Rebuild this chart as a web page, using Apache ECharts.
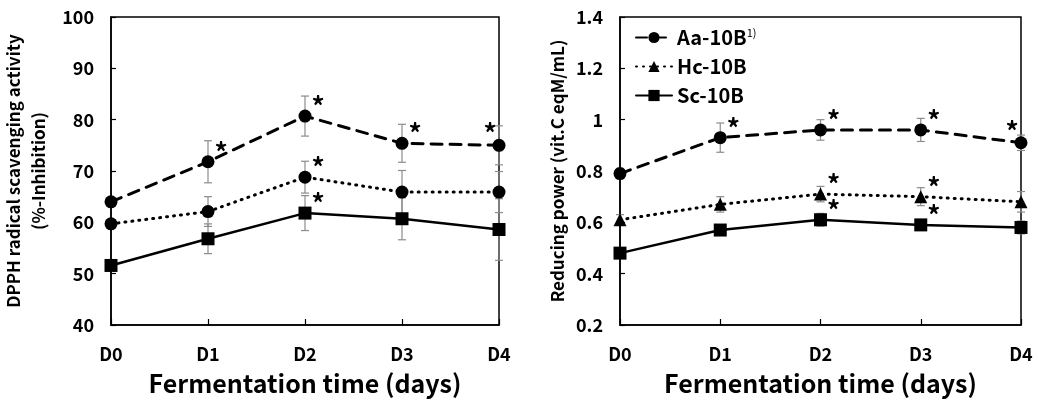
<!DOCTYPE html>
<html>
<head>
<meta charset="utf-8">
<script src="https://cdn.jsdelivr.net/npm/echarts@6/dist/echarts.min.js"></script>
<style>
  html, body { margin: 0; padding: 0; background: #fff; }
  #chart { width: 1039px; height: 410px; }
</style>
</head>
<body>
<div id="chart"></div>
<script>
// days of fermentation
var days = ['D0', 'D1', 'D2', 'D3', 'D4'];

// DPPH radical scavenging activity (%)
var dpphAa = [64.0, 71.8, 80.7, 75.4, 75.0];
var dpphAaErr = [0.8, 4.1, 3.9, 3.7, 3.8];
var dpphHc = [59.7, 62.1, 68.8, 65.9, 65.9];
var dpphHcErr = [0.8, 2.9, 3.1, 4.2, 4.0];
var dpphSc = [51.6, 56.8, 61.8, 60.7, 58.6];
var dpphScErr = [1.0, 2.9, 3.4, 4.1, 6.0];

// reducing power (vit.C eqM/mL)
var redAa = [0.79, 0.93, 0.96, 0.96, 0.91];
var redAaErr = [0.02, 0.057, 0.04, 0.045, 0.03];
var redHc = [0.61, 0.67, 0.71, 0.70, 0.68];
var redHcErr = [0.02, 0.03, 0.03, 0.035, 0.04];
var redSc = [0.48, 0.57, 0.61, 0.59, 0.58];
var redScErr = [0.01, 0.02, 0.025, 0.015, 0.025];

// 1 = significant (*)
var dpphAaSig = [0, 1, 1, 1, 1];
var dpphHcSig = [0, 0, 1, 0, 0];
var dpphScSig = [0, 0, 1, 0, 0];
var redAaSig = [0, 1, 1, 1, 1];
var redHcSig = [0, 0, 1, 1, 0];
var redScSig = [0, 0, 1, 1, 0];

var FONT = 'Noto Sans CJK KR';

function withStars(values, sig) {
    return values.map(function (v, i) {
        if (!sig[i]) return v;
        return {
            value: v,
            label: {
                show: true,
                formatter: '*',
                position: 'inside',
                offset: i === values.length - 1 ? [-9, -12] : [13, -10],
                fontSize: 26,
                fontWeight: 'bold',
                fontFamily: FONT,
                color: '#000'
            }
        };
    });
}

function errData(values, err) {
    return values.map(function (v, i) {
        return [i, v - err[i], v + err[i]];
    });
}

function errSeries(idx, values, err) {
    return {
        type: 'custom',
        xAxisIndex: idx,
        yAxisIndex: idx,
        z: 1,
        silent: true,
        data: errData(values, err),
        renderItem: function (params, api) {
            var lo = api.coord([api.value(0), api.value(1)]);
            var hi = api.coord([api.value(0), api.value(2)]);
            var w = 4;
            var st = { stroke: '#8c8c8c', lineWidth: 1.2 };
            return {
                type: 'group',
                children: [
                    { type: 'line', shape: { x1: lo[0], y1: lo[1], x2: hi[0], y2: hi[1] }, style: st },
                    { type: 'line', shape: { x1: lo[0] - w, y1: lo[1], x2: lo[0] + w, y2: lo[1] }, style: st },
                    { type: 'line', shape: { x1: hi[0] - w, y1: hi[1], x2: hi[0] + w, y2: hi[1] }, style: st }
                ]
            };
        }
    };
}

function lineSeries(name, idx, data, symbol, lineType, width) {
    return {
        name: name,
        type: 'line',
        xAxisIndex: idx,
        yAxisIndex: idx,
        z: 3,
        data: data,
        symbol: symbol,
        symbolSize: 13,
        itemStyle: { color: '#000' },
        lineStyle: { color: '#000', width: width, type: lineType, cap: 'round' },
        emphasis: { disabled: true }
    };
}

function xAxisCfg(idx) {
    return {
        type: 'category',
        gridIndex: idx,
        data: days,
        boundaryGap: false,
        axisLine: { lineStyle: { color: '#000', width: 1.5 } },
        axisTick: { inside: true, length: 6, lineStyle: { color: '#000', width: 1.2 } },
        axisLabel: { margin: 20, fontSize: 18, fontWeight: 'bold', fontFamily: FONT, color: '#000' },
        name: 'Fermentation time (days)',
        nameLocation: 'middle',
        nameGap: 46,
        nameTextStyle: { fontSize: 25, fontWeight: 'bold', fontFamily: FONT, color: '#000' },
        splitLine: { show: false }
    };
}

function yAxisCfg(idx, min, max, interval, name, nameGap, lh) {
    return {
        type: 'value',
        gridIndex: idx,
        min: min,
        max: max,
        interval: interval,
        axisLine: { show: true, lineStyle: { color: '#000', width: 1.5 } },
        axisTick: { show: true, inside: true, length: 5, lineStyle: { color: '#000', width: 1.2 } },
        axisLabel: { margin: 17, fontSize: 18, fontWeight: 'bold', fontFamily: FONT, color: '#000' },
        splitLine: { show: false },
        name: name,
        nameLocation: 'middle',
        nameRotate: 90,
        nameGap: nameGap,
        nameTextStyle: { fontSize: 17, fontWeight: 'bold', fontFamily: FONT, color: '#000', lineHeight: lh }
    };
}

var chart = echarts.init(document.getElementById('chart'));

var option = {
    animation: false,
    backgroundColor: '#fff',
    grid: [
        { left: 100, right: 540, top: 17, bottom: 85, show: true, borderColor: '#000', borderWidth: 1.5 },
        { left: 620, right: 18, top: 17, bottom: 85, show: true, borderColor: '#000', borderWidth: 1.5 }
    ],
    legend: {
        orient: 'vertical',
        left: 630,
        top: 22,
        itemWidth: 36,
        itemHeight: 14,
        itemGap: 9,
        data: ['Aa-10B', 'Hc-10B', 'Sc-10B'],
        formatter: function (name) {
            return name === 'Aa-10B' ? name + '{sup|1)}' : name;
        },
        textStyle: {
            fontSize: 20, fontWeight: 'bold', fontFamily: FONT, color: '#000',
            rich: { sup: { fontSize: 11, fontWeight: 'normal', fontFamily: FONT, color: '#000', padding: [0, 0, 10, 0] } }
        }
    },
    xAxis: [xAxisCfg(0), xAxisCfg(1)],
    yAxis: [
        yAxisCfg(0, 40, 100, 10, 'DPPH radical scavenging activity\n(%-Inhibition)', 60, 25),
        yAxisCfg(1, 0.2, 1.4, 0.2, 'Reducing power (vit.C eqM/mL)', 52, 20)
    ],
    series: [
        // right chart first so the legend uses its symbols
        lineSeries('Aa-10B', 1, withStars(redAa, redAaSig), 'circle', [11, 8], 3),
        lineSeries('Hc-10B', 1, withStars(redHc, redHcSig), 'triangle', [1, 6], 3),
        lineSeries('Sc-10B', 1, withStars(redSc, redScSig), 'rect', 'solid', 2.5),
        errSeries(1, redAa, redAaErr),
        errSeries(1, redHc, redHcErr),
        errSeries(1, redSc, redScErr),

        lineSeries('Aa-10B', 0, withStars(dpphAa, dpphAaSig), 'circle', [11, 8], 3),
        lineSeries('Hc-10B', 0, withStars(dpphHc, dpphHcSig), 'circle', [1, 6], 3),
        lineSeries('Sc-10B', 0, withStars(dpphSc, dpphScSig), 'rect', 'solid', 2.5),
        errSeries(0, dpphAa, dpphAaErr),
        errSeries(0, dpphHc, dpphHcErr),
        errSeries(0, dpphSc, dpphScErr)
    ]
};

chart.setOption(option);
</script>
</body>
</html>
